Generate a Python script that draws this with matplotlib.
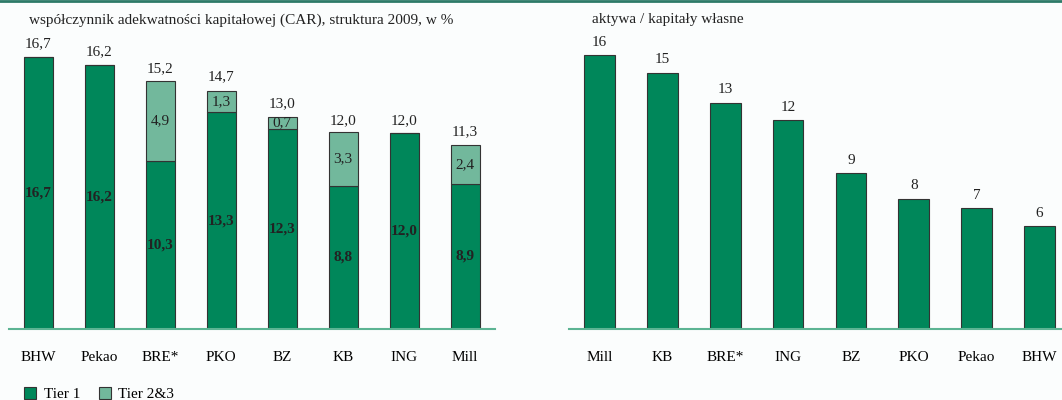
import matplotlib.pyplot as plt
from matplotlib.patches import Patch
from matplotlib.lines import Line2D

plt.rcParams['font.family'] = ['Liberation Serif', 'DejaVu Serif']

# left panel: CAR structure 2009, %
car_banks = ['BHW', 'Pekao', 'BRE*', 'PKO', 'BZ', 'KB', 'ING', 'Mill']
tier1 = [16.7, 16.2, 10.3, 13.3, 12.3, 8.8, 12.0, 8.9]
tier23 = [0.0, 0.0, 4.9, 1.3, 0.7, 3.3, 0.0, 2.4]
car_total = [16.7, 16.2, 15.2, 14.7, 13.0, 12.0, 12.0, 11.3]

# right panel: assets / equity
lev_banks = ['Mill', 'KB', 'BRE*', 'ING', 'BZ', 'PKO', 'Pekao', 'BHW']
leverage = [16.0, 15.0, 13.2, 12.2, 9.1, 7.6, 7.05, 6.0]

dark = '#00875a'
light = '#72b89c'
edge = '#333333'
axis_col = '#5cb493'
bg = '#fbfdfd'
fs = 11

W, H = 1062, 400
fig = plt.figure(figsize=(W / 100, H / 100), dpi=100, facecolor=bg)


def add_ax(x0, x1, ybase, ytop):
    ax = fig.add_axes([x0 / W, (H - ybase) / H, (x1 - x0) / W, (ybase - ytop) / H])
    ax.set_facecolor('none')
    for s in ['top', 'right', 'left']:
        ax.spines[s].set_visible(False)
    ax.spines['bottom'].set_color(axis_col)
    ax.spines['bottom'].set_linewidth(1.5)
    ax.set_yticks([])
    ax.tick_params(axis='x', length=0, pad=16, labelsize=fs)
    return ax


# ---- left chart
ax1 = add_ax(9, 495, 329, 30)
x = range(len(car_banks))
ax1.bar(x, tier1, width=0.476, color=dark, edgecolor=edge, linewidth=0.8, zorder=2)
ax1.bar(x, tier23, width=0.476, bottom=tier1, color=light, edgecolor=edge, linewidth=0.8, zorder=2)
ax1.set_xlim(-0.484, 7.49)
ax1.set_ylim(0, 299 / 16.3)
ax1.set_xticks(list(x))
ax1.set_xticklabels(car_banks)
for i in x:
    ax1.text(i, car_total[i] + 0.4, f'{car_total[i]:.1f}'.replace('.', ','),
             ha='center', va='bottom', fontsize=fs, color='#222222')
    ax1.text(i, tier1[i] / 2, f'{tier1[i]:.1f}'.replace('.', ','),
             ha='center', va='center', fontsize=fs, fontweight='bold', color='#222222')
    if tier23[i] > 0:
        ax1.text(i, tier1[i] + tier23[i] / 2, f'{tier23[i]:.1f}'.replace('.', ','),
                 ha='center', va='center', fontsize=fs, color='#222222')

# ---- right chart
ax2 = add_ax(569, 1062, 329, 30)
x2 = range(len(lev_banks))
ax2.bar(x2, leverage, width=0.49, color=dark, edgecolor=edge, linewidth=0.8, zorder=2)
ax2.set_xlim(-0.485, 7.358)
ax2.set_ylim(0, 299 / 17.1)
ax2.set_xticks(list(x2))
ax2.set_xticklabels(lev_banks)
for i in x2:
    ax2.text(i, leverage[i] + 0.4, f'{leverage[i]:.0f}',
             ha='center', va='bottom', fontsize=fs, color='#222222')

# titles
fig.text(29 / W, 1 - 20 / H, 'współczynnik adekwatności kapitałowej (CAR), struktura 2009, w %',
         ha='left', va='center', fontsize=fs, color='#222222')
fig.text(592 / W, 1 - 20 / H, 'aktywa / kapitały własne',
         ha='left', va='center', fontsize=fs, color='#222222')

# top rule
fig.add_artist(Line2D([0, 1], [1 - 1 / H, 1 - 1 / H], transform=fig.transFigure,
                      color='#2d7a68', linewidth=2))

# legend
handles = [Patch(facecolor=dark, edgecolor=edge, linewidth=0.8, label='Tier 1'),
           Patch(facecolor=light, edgecolor=edge, linewidth=0.8, label='Tier 2&3')]
fig.legend(handles=handles, loc='center left', bbox_to_anchor=(24 / W, 6 / H),
           ncol=2, frameon=False, fontsize=fs, handlelength=0.8, handleheight=0.8,
           handletextpad=0.5, columnspacing=1.2, borderaxespad=0, borderpad=0)

fig.savefig('out.png', dpi=100, facecolor=bg)
